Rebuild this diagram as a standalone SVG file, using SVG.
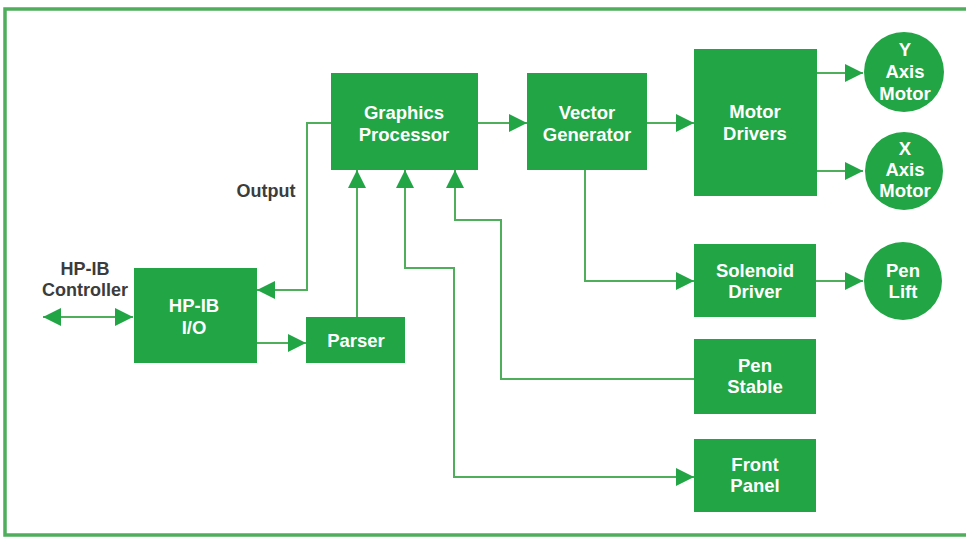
<svg xmlns="http://www.w3.org/2000/svg" width="966" height="540" viewBox="0 0 966 540">
<style>
.box{fill:#22a545}
.t{font-family:"Liberation Sans",Arial,sans-serif;font-weight:bold;font-size:18.5px;fill:#ffffff;text-anchor:middle}
.lbl{font-family:"Liberation Sans",Arial,sans-serif;font-weight:bold;font-size:18px;fill:#3c3c3c;text-anchor:middle}
.c{fill:none;stroke:#4fae5c;stroke-width:2}
</style>
<defs>
<marker id="ah" markerUnits="userSpaceOnUse" markerWidth="18" markerHeight="18" refX="18" refY="9" orient="auto-start-reverse">
<path d="M0,0 L18,9 L0,18 z" fill="#22a545"/>
</marker>
</defs>
<rect x="0" y="0" width="966" height="540" fill="#ffffff"/>
<rect x="5" y="9" width="975" height="526" fill="none" stroke="#4fae5c" stroke-width="3.5"/>

<g id="connectors">
<path class="c" d="M43,317 H133" marker-start="url(#ah)" marker-end="url(#ah)"/>
<path class="c" d="M331,123 H307 V290 H257" marker-end="url(#ah)"/>
<path class="c" d="M257,343 H306" marker-end="url(#ah)"/>
<path class="c" d="M357,317 V170" marker-end="url(#ah)"/>
<path class="c" d="M478,123 H527" marker-end="url(#ah)"/>
<path class="c" d="M647,123 H694" marker-end="url(#ah)"/>
<path class="c" d="M817,73 H863" marker-end="url(#ah)"/>
<path class="c" d="M817,171 H863" marker-end="url(#ah)"/>
<path class="c" d="M585,170 V281 H694" marker-end="url(#ah)"/>
<path class="c" d="M816,281 H863" marker-end="url(#ah)"/>
<path class="c" d="M694,379 H501 V220 H455 V170" marker-end="url(#ah)"/>
<path class="c" d="M405,170 V268 H454 V477 H694" marker-start="url(#ah)" marker-end="url(#ah)"/>
</g>

<g id="hpib-controller">
<text class="lbl" x="85" y="275">HP-IB</text>
<text class="lbl" x="85" y="296">Controller</text>
</g>
<g id="output-label">
<text class="lbl" x="266" y="197">Output</text>
</g>

<g id="hpib-io">
<rect class="box" x="134" y="268" width="123" height="95"/>
<text class="t" x="194" y="312">HP-IB</text>
<text class="t" x="194" y="334">I/O</text>
</g>
<g id="parser">
<rect class="box" x="306" y="317" width="99" height="46"/>
<text class="t" x="356" y="347">Parser</text>
</g>
<g id="graphics-processor">
<rect class="box" x="331" y="73" width="147" height="97"/>
<text class="t" x="404" y="119">Graphics</text>
<text class="t" x="404" y="141">Processor</text>
</g>
<g id="vector-generator">
<rect class="box" x="527" y="73" width="120" height="97"/>
<text class="t" x="587" y="119">Vector</text>
<text class="t" x="587" y="141">Generator</text>
</g>
<g id="motor-drivers">
<rect class="box" x="694" y="49" width="123" height="147"/>
<text class="t" x="755" y="118">Motor</text>
<text class="t" x="755" y="140">Drivers</text>
</g>
<g id="y-axis-motor">
<circle class="box" cx="904" cy="72" r="40"/>
<text class="t" x="905" y="56">Y</text>
<text class="t" x="905" y="78">Axis</text>
<text class="t" x="905" y="100">Motor</text>
</g>
<g id="x-axis-motor">
<circle class="box" cx="904" cy="171" r="39"/>
<text class="t" x="905" y="155">X</text>
<text class="t" x="905" y="176">Axis</text>
<text class="t" x="905" y="197">Motor</text>
</g>
<g id="solenoid-driver">
<rect class="box" x="694" y="244" width="122" height="73"/>
<text class="t" x="755" y="277">Solenoid</text>
<text class="t" x="755" y="298">Driver</text>
</g>
<g id="pen-lift">
<circle class="box" cx="903" cy="281" r="39"/>
<text class="t" x="903" y="277">Pen</text>
<text class="t" x="903" y="298">Lift</text>
</g>
<g id="pen-stable">
<rect class="box" x="694" y="339" width="122" height="75"/>
<text class="t" x="755" y="372">Pen</text>
<text class="t" x="755" y="393">Stable</text>
</g>
<g id="front-panel">
<rect class="box" x="694" y="439" width="122" height="73"/>
<text class="t" x="755" y="471">Front</text>
<text class="t" x="755" y="492">Panel</text>
</g>
</svg>
